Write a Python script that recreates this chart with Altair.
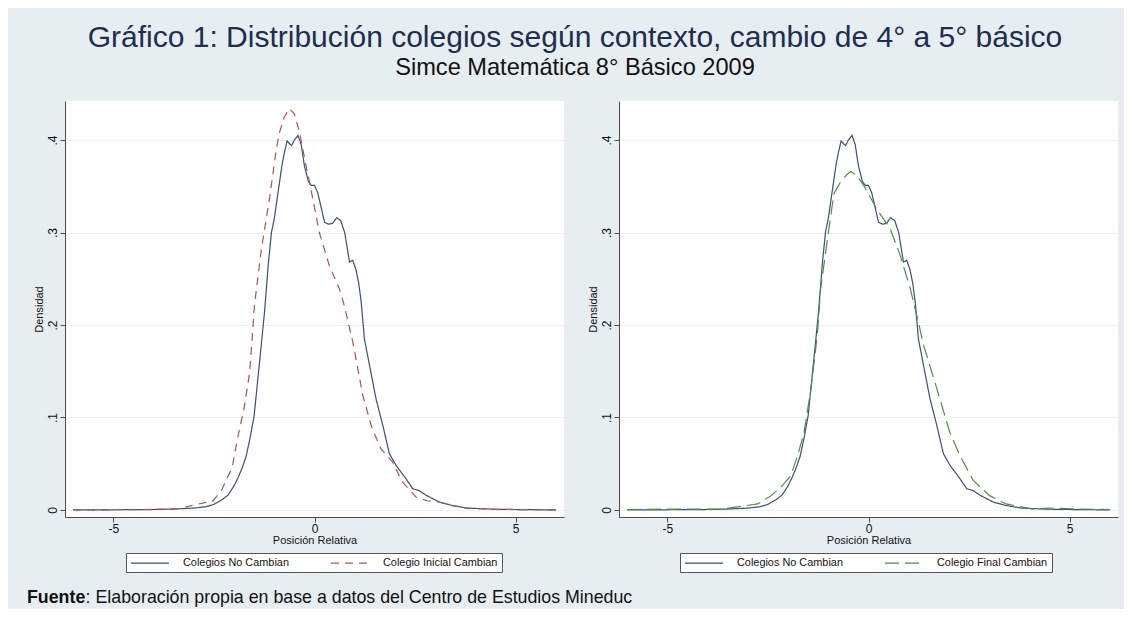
import altair as alt
import pandas as pd

# ---- data ----
S_NO = "Colegios No Cambian"
S_INI = "Colegio Inicial Cambian"
S_FIN = "Colegio Final Cambian"

x_no = [-6.0, -5.0, -4.0, -3.5, -3.0, -2.7, -2.5, -2.3, -2.15, -2.0, -1.9, -1.8, -1.7,
        -1.6, -1.5, -1.4, -1.33, -1.24, -1.15, -1.07, -1.0, -0.9, -0.8, -0.74, -0.68,
        -0.62, -0.57, -0.5, -0.41, -0.33, -0.25, -0.15, -0.08, 0.0, 0.08, 0.15, 0.25,
        0.35, 0.45, 0.55, 0.65, 0.75, 0.87, 0.95, 1.03, 1.1, 1.16, 1.24, 1.4, 1.53, 1.7,
        1.86, 2.03, 2.27, 2.44, 2.6, 2.77, 3.1, 3.4, 3.8, 4.5, 5.0, 5.5, 6.0]
y_no = [0.0, 0.0002, 0.0005, 0.001, 0.002, 0.0035, 0.006, 0.011, 0.016, 0.026, 0.035,
        0.045, 0.058, 0.078, 0.102, 0.145, 0.175, 0.215, 0.265, 0.30, 0.315, 0.345,
        0.375, 0.388, 0.399, 0.396, 0.394, 0.400, 0.405, 0.395, 0.372, 0.355, 0.351,
        0.351, 0.343, 0.330, 0.311, 0.309, 0.310, 0.316, 0.313, 0.300, 0.268, 0.270,
        0.260, 0.245, 0.225, 0.185, 0.149, 0.120, 0.091, 0.061, 0.048, 0.034, 0.023,
        0.021, 0.016, 0.0086, 0.005, 0.002, 0.0008, 0.0005, 0.0003, 0.0]

x_ini = [-6.0, -5.0, -4.0, -3.35, -2.94, -2.53, -2.3, -2.19, -2.05, -1.9, -1.75, -1.61,
         -1.49, -1.32, -1.12, -0.95, -0.87, -0.75, -0.62, -0.5, -0.37, -0.21, -0.04,
         0.12, 0.37, 0.62, 0.74, 0.95, 1.2, 1.41, 1.65, 1.94, 2.17, 2.52, 2.8, 3.1,
         3.4, 3.76, 4.5, 5.0, 6.0]
y_ini = [0.0, 0.0002, 0.0006, 0.0015, 0.006, 0.0095, 0.022, 0.033, 0.045, 0.08, 0.11,
         0.149, 0.222, 0.282, 0.336, 0.39, 0.408, 0.425, 0.434, 0.428, 0.408, 0.372,
         0.336, 0.30, 0.264, 0.239, 0.221, 0.182, 0.124, 0.091, 0.066, 0.052, 0.031,
         0.014, 0.010, 0.0086, 0.005, 0.002, 0.0008, 0.0004, 0.0]

x_fin = [-6.0, -5.0, -4.0, -3.65, -3.16, -2.75, -2.42, -2.17, -1.93, -1.76, -1.6, -1.43,
         -1.27, -1.19, -1.02, -0.86, -0.69, -0.53, -0.44, -0.3, -0.12, 0.21, 0.54, 0.79,
         1.04, 1.24, 1.37, 1.7, 2.02, 2.27, 2.6, 3.01, 3.42, 4.08, 4.49, 5.3, 6.0]
y_fin = [0.0005, 0.001, 0.001, 0.001, 0.004, 0.0065, 0.0155, 0.025, 0.037, 0.059, 0.084,
         0.131, 0.19, 0.239, 0.293, 0.342, 0.355, 0.363, 0.366, 0.362, 0.351, 0.325,
         0.304, 0.275, 0.239, 0.203, 0.178, 0.131, 0.084, 0.059, 0.032, 0.0155, 0.0065,
         0.001, 0.002, 0.001, 0.0005]

x_ticks = [-5, 0, 5]
y_ticks = [0, 0.1, 0.2, 0.3, 0.4]

TITLE = "Gráfico 1: Distribución colegios según contexto, cambio de 4° a 5° básico"
SUBTITLE = "Simce Matemática 8° Básico 2009"
FOOT_BOLD = "Fuente"
FOOT_REST = ": Elaboración propia en base a datos del Centro de Estudios Mineduc"

# ---- styling ----
FONT = "Liberation Sans"
BG = "#e7eef2"
C_NO = "#3b4f78"
C_INI = "#b0535b"
C_FIN = "#4f9040"
W, H = 499, 416
X_DOMAIN = [-6.2, 6.2]
Y_DOMAIN = [-0.0076, 0.4422]
LEG_SYMBOL = "M-1,0H6.6"


def frame(xs, ys, name):
    return pd.DataFrame({"x": xs, "y": ys, "serie": name})


def panel(df, serie2, color2, dash2, with_footer):
    leg = alt.Legend(
        orient="none", legendX=61, legendY=452, direction="horizontal", columns=2,
        title=None, strokeColor="#555555", fillColor="white", padding=4,
        symbolType=LEG_SYMBOL, symbolSize=100, symbolStrokeWidth=1.2,
        labelFont=FONT, labelFontSize=10.9, labelColor="#111111", labelOffset=41,
        columnPadding=39,
    )
    lines = alt.Chart(df).mark_line(strokeWidth=1.2, clip=True).encode(
        x=alt.X("x:Q", scale=alt.Scale(domain=X_DOMAIN, nice=False, zero=False),
                axis=alt.Axis(title="Posición Relativa", values=x_ticks, grid=False,
                              labelFontSize=12, titleFontSize=11, labelPadding=1,
                              titlePadding=0, format="d",
                              labelExpr="replace(datum.label, '−', '-')")),
        y=alt.Y("y:Q", scale=alt.Scale(domain=Y_DOMAIN, nice=False, zero=False),
                axis=alt.Axis(title="Densidad", values=y_ticks, grid=True,
                              gridColor="#edf0f3", labelAngle=270, labelAlign="center",
                              labelBaseline="middle", labelFontSize=12, labelPadding=8,
                              titleFontSize=11, titlePadding=2,
                              labelExpr="datum.value == 0 ? '0' : replace(format(datum.value, '.1f'), '0.', '.')")),
        color=alt.Color("serie:N", scale=alt.Scale(domain=[S_NO, serie2], range=[C_NO, color2]),
                        legend=leg),
        strokeDash=alt.StrokeDash("serie:N", scale=alt.Scale(domain=[S_NO, serie2],
                                                             range=[[1, 0], dash2]),
                                  legend=leg),
    )
    layers = [lines]
    if with_footer:
        fb = alt.Chart(pd.DataFrame({"t": [FOOT_BOLD]})).mark_text(
            align="left", baseline="alphabetic", font=FONT, fontSize=17.8,
            fontWeight="bold", color="#111111").encode(
            x=alt.value(-38), y=alt.value(502), text="t:N")
        fr = alt.Chart(pd.DataFrame({"t": [FOOT_REST]})).mark_text(
            align="left", baseline="alphabetic", font=FONT, fontSize=17.8,
            color="#111111").encode(
            x=alt.value(20.6), y=alt.value(502), text="t:N")
        layers += [fb, fr]
    return alt.layer(*layers).properties(width=W, height=H)


left = panel(pd.concat([frame(x_no, y_no, S_NO), frame(x_ini, y_ini, S_INI)]),
             S_INI, C_INI, [8, 6], True)
right = panel(pd.concat([frame(x_no, y_no, S_NO), frame(x_fin, y_fin, S_FIN)]),
              S_FIN, C_FIN, [14, 6], False)

chart = alt.hconcat(left, right, spacing=55, bounds="flush").resolve_scale(
    color="independent", strokeDash="independent"
).resolve_legend(color="independent", strokeDash="independent").properties(
    title=alt.TitleParams(
        text=TITLE, subtitle=SUBTITLE, anchor="middle", font=FONT, fontSize=30,
        fontWeight="normal", color="#1e2d50", subtitleFont=FONT, subtitleFontSize=23.6,
        subtitleColor="#111111", subtitlePadding=3, offset=21, dx=2.5),
    background=BG,
    padding={"left": 19, "top": 15, "right": 6, "bottom": 2},
).configure_view(stroke=None, fill="white").configure_axis(
    labelFont=FONT, titleFont=FONT, domainColor="#4d4d4d", tickColor="#4d4d4d",
    tickSize=5, labelColor="#111111", titleColor="#111111", titleFontWeight="normal",
)

chart.save("out.html", embed_options={"renderer": "svg", "actions": False})
